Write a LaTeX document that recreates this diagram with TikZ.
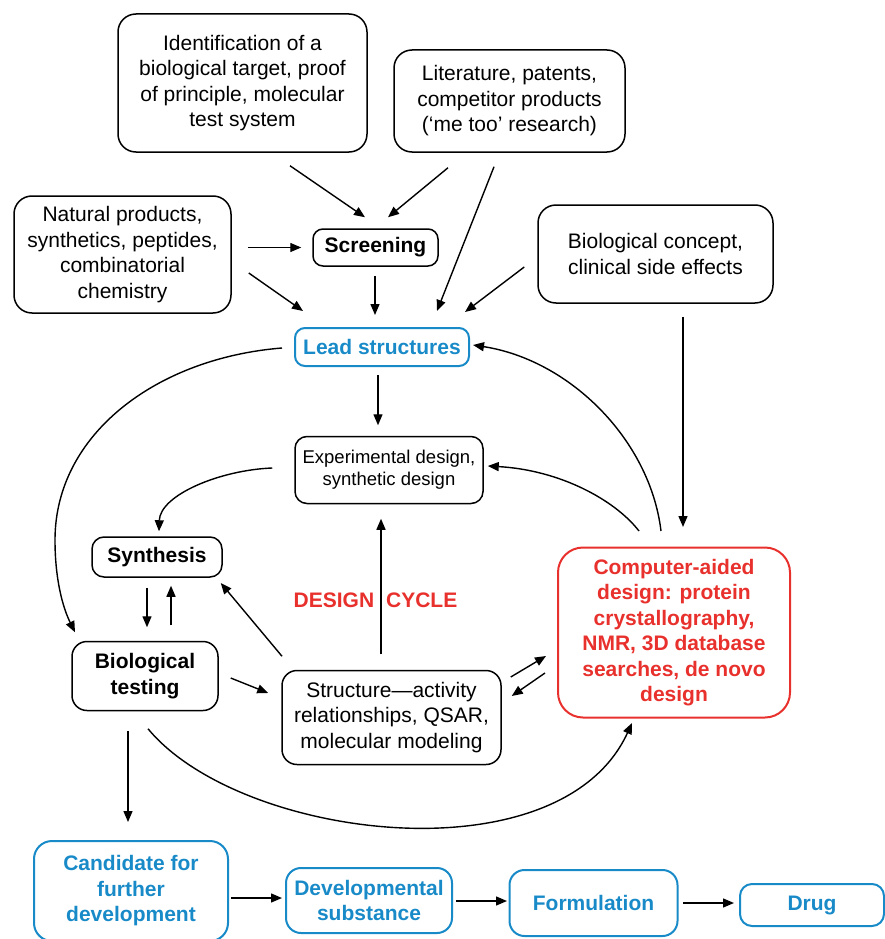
\documentclass[tikz,border=0pt]{standalone}
\usepackage{fontspec}
\setmainfont{Liberation Sans}
\usetikzlibrary{arrows.meta}
\definecolor{leadblue}{RGB}{25,138,200}
\definecolor{cadred}{RGB}{232,48,44}
\begin{document}
\begin{tikzpicture}[x=1pt,y=-1pt,
  box/.style={draw, line width=1.5pt, rounded corners=18pt, align=center, inner sep=0pt,
    font=\fontsize{21}{25.5}\selectfont},
  bbox/.style={box, font=\fontsize{21}{25.5}\selectfont\bfseries},
  bluebox/.style={bbox, draw=leadblue, text=leadblue, line width=2pt},
  redbox/.style={bbox, draw=cadred, text=cadred, line width=2pt, rounded corners=25pt},
  arr/.style={-{Triangle[length=11pt,width=9pt]}, line width=1.4pt},
  ]
\useasboundingbox (0,0) rectangle (885,939);

% nodes
\node[box, minimum width=249pt, minimum height=138pt] (ident) at (242.5,83)
  {Identification of a\\biological target, proof\\of principle, molecular\\test system};
\node[box, minimum width=231pt, minimum height=102pt] (lit) at (509.5,101)
  {Literature, patents,\\competitor products\\(‘me too’ research)};
\node[box, minimum width=217pt, minimum height=117pt] (nat) at (122.5,254.5)
  {Natural products,\\synthetics, peptides,\\combinatorial\\chemistry};
\node[bbox, rounded corners=10pt, minimum width=125pt, minimum height=37pt] (screen) at (375.5,247.5)
  {Screening};
\node[box, minimum width=235pt, minimum height=98pt] (bioc) at (655.5,254)
  {Biological concept,\\clinical side effects};
\node[bluebox, rounded corners=10pt, minimum width=174pt, minimum height=38pt] (lead) at (382,347)
  {Lead structures};
\node[box, rounded corners=12pt, minimum width=188pt, minimum height=67pt,
  font=\fontsize{18.5}{22}\selectfont] (exp) at (389,470)
  {Experimental design,\\synthetic design};
\node[bbox, rounded corners=12pt, minimum width=130pt, minimum height=40pt] (synth) at (157,557)
  {Synthesis};
\node[bbox, rounded corners=15pt, minimum width=146pt, minimum height=69pt] (biot) at (145,676)
  {Biological\\testing};
\node[box, rounded corners=15pt, minimum width=219pt, minimum height=94pt] (sar) at (391.5,717.5)
  {Structure—activity\\relationships, QSAR,\\molecular modeling};
\node[redbox, minimum width=232pt, minimum height=170pt] (cad) at (674,632.5)
  {Computer-aided\\design: protein\\crystallography,\\NMR, 3D database\\searches, de novo\\design};
\node[bluebox, minimum width=194pt, minimum height=100pt] (cand) at (131,891)
  {Candidate for\\further\\development};
\node[bluebox, rounded corners=15pt, minimum width=166pt, minimum height=65pt] (dev) at (369,900.5)
  {Developmental\\substance};
\node[bluebox, rounded corners=15pt, minimum width=168pt, minimum height=66pt] (form) at (593.5,903)
  {Formulation};
\node[bluebox, rounded corners=12pt, minimum width=144pt, minimum height=42pt] (drug) at (812,905)
  {Drug};
\node[font=\fontsize{21}{25.5}\selectfont\bfseries, text=cadred, inner sep=0pt] (cycle) at (375.5,600)
  {DESIGN\hspace{12pt}CYCLE};

% connectors
\draw[arr] ([shift={(47.5,13)}]ident.south) -- ([shift={(-10.5,-11)}]screen.north);
\draw[arr] ([shift={(-61.5,15)}]lit.south) -- ([shift={(12.5,-11)}]screen.north);
\draw[arr] ([shift={(16,-7)}]nat.east) -- ([shift={(-11,0)}]screen.west);
\draw[arr] ([shift={(17,18.5)}]nat.east) -- ([shift={(-79,-16)}]lead.north);
\draw[arr] ([shift={(-0.5,9)}]screen.south) -- ([shift={(-7,-12)}]lead.north);
\draw[arr] ([shift={(-15.5,14)}]lit.south) -- ([shift={(55,-16)}]lead.north);
\draw[arr] ([shift={(-13,13)}]bioc.west) -- ([shift={(83,-15)}]lead.north);
\draw[arr] ([shift={(27.5,13)}]bioc.south) -- ([shift={(9,-19.5)}]cad.north);
\draw[arr] ([shift={(-4,8)}]lead.south) -- ([shift={(-11,-10.5)}]exp.north);
\draw[arr] ([shift={(-12,1)}]lead.west) .. controls (157,358) and (55,434) .. (55,540)
  .. controls (55,580) and (63,608) .. ([shift={(-70,-8.5)}]biot.north);
\draw[arr] ([shift={(-22,-2)}]exp.west) .. controls (220,470) and (160,495) .. ([shift={(2,-5)}]synth.north);
\draw[arr] ([shift={(-10,10)}]synth.south) -- ([shift={(2,-13.5)}]biot.north);
\draw[arr] ([shift={(26,-15.5)}]biot.north) -- ([shift={(14,8)}]synth.south);
\draw[arr] ([shift={(-109.5,-13.5)}]sar.north) -- ([shift={(-2,26)}]synth.east);
\draw[arr] ([shift={(-10.5,-15.5)}]sar.north) -- ([shift={(-8,14.5)}]exp.south);
\draw[arr] ([shift={(12,2)}]biot.east) -- ([shift={(-13,-24.5)}]sar.west);
\draw[arr] ([shift={(9,-40.5)}]sar.east) -- ([shift={(-11,23.5)}]cad.west);
\draw[arr] ([shift={(-12,40.5)}]cad.west) -- ([shift={(10,-21.5)}]sar.east);
\draw[arr] ([shift={(3,17.5)}]biot.south) .. controls (240,840) and (560,880) .. ([shift={(-42,4.5)}]cad.south);
\draw[arr] ([shift={(-17,19.5)}]biot.south) -- ([shift={(-3,-18)}]cand.north);
\draw[arr] ([shift={(-13,-15.5)}]cad.north) .. controls (650,440) and (570,360) .. ([shift={(3,-2)}]lead.east);
\draw[arr] ([shift={(-35,-15.5)}]cad.north) .. controls (615,500) and (560,470) .. ([shift={(4,-4)}]exp.east);
\draw[arr] ([shift={(2,7)}]cand.east) -- ([shift={(-3,-2.5)}]dev.west);
\draw[arr] ([shift={(3,0.5)}]dev.east) -- ([shift={(-1.5,-2)}]form.west);
\draw[arr] ([shift={(4.5,0)}]form.east) -- ([shift={(-5,-2)}]drug.west);
\end{tikzpicture}
\end{document}
